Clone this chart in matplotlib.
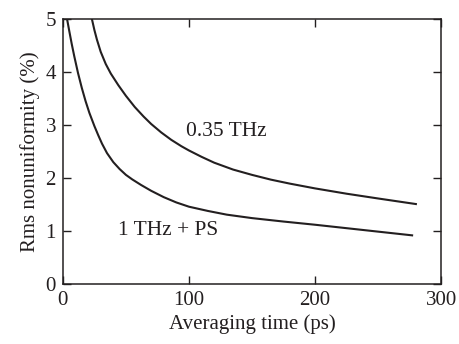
import matplotlib
matplotlib.use('Agg')
import matplotlib.pyplot as plt

#values
t_035 = [23, 25, 27, 30, 34, 38, 44, 50, 57, 64, 70, 78, 86, 94, 100, 110, 120, 135, 150, 165, 180, 200, 225, 250, 280]
rms_035 = [5.0, 4.79, 4.61, 4.38, 4.15, 3.97, 3.75, 3.55, 3.34, 3.16, 3.02, 2.86, 2.72, 2.60, 2.52,
           2.40, 2.29, 2.16, 2.06, 1.97, 1.895, 1.805, 1.705, 1.615, 1.51]

t_1thz = [3.3, 5, 7, 9, 12, 15, 18, 21, 25, 28, 31, 35, 40, 45, 50, 55, 62, 70, 80, 90, 100,
          115, 130, 150, 175, 200, 225, 250, 277]
rms_1thz = [5.0, 4.78, 4.53, 4.30, 3.98, 3.70, 3.45, 3.23, 2.98, 2.81, 2.65, 2.47, 2.30, 2.17, 2.06,
            1.975, 1.87, 1.76, 1.64, 1.54, 1.46, 1.38, 1.31, 1.245, 1.18, 1.12, 1.055, 0.99, 0.92]

xticks = [0, 100, 200, 300]
yticks = [0, 1, 2, 3, 4, 5]

ink = '#231f20'
plt.rcParams['font.family'] = ['Liberation Serif', 'DejaVu Serif']
fs = 15

fig = plt.figure(figsize=(4.59, 3.44), dpi=100)
ax = fig.add_axes([0.137, 0.174, 0.824, 0.771])

ax.plot(t_035, rms_035, color=ink, lw=1.5)
ax.plot(t_1thz, rms_1thz, color=ink, lw=1.5)

ax.text(98, 2.87, '0.35 THz', fontsize=15.5, color=ink, va='center', ha='left')
ax.text(43.5, 1.01, '1 THz + PS', fontsize=15.5, color=ink, va='center', ha='left')

ax.set_xlim(0, 300)
ax.set_ylim(0, 5)
ax.set_xticks(xticks)
ax.set_yticks(yticks)
ax.tick_params(direction='in', length=6, width=1.0, color=ink, labelcolor=ink,
               labelsize=fs, top=True, right=True, pad=5)
for s in ax.spines.values():
    s.set_linewidth(1.1)
    s.set_color(ink)

ax.set_xlabel('Averaging time (ps)', fontsize=fs, color=ink, labelpad=3)
ax.set_ylabel('Rms nonuniformity (%)', fontsize=fs, color=ink, labelpad=4)

fig.savefig('out.png', dpi=100)
